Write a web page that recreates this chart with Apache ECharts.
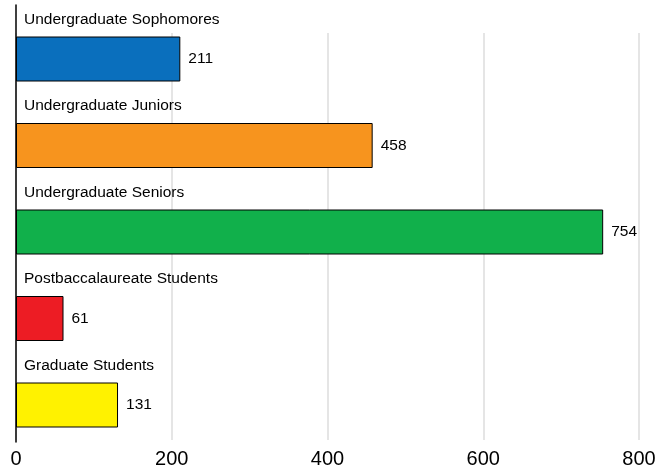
<!DOCTYPE html>
<html>
<head>
<meta charset="utf-8">
<script src="https://cdn.jsdelivr.net/npm/echarts@6/dist/echarts.min.js"></script>
<style>
html,body{margin:0;padding:0;background:#fff;}
#chart{width:668px;height:471px;}
</style>
</head>
<body>
<div id="chart"></div>
<script>
const categories = ['Undergraduate Sophomores', 'Undergraduate Juniors', 'Undergraduate Seniors', 'Postbaccalaureate Students', 'Graduate Students'];
const values = [211, 458, 754, 61, 131];
const colors = ['#0a6fbd', '#f7941e', '#11b04b', '#ed1c24', '#fff200'];
const xTicks = [0, 200, 400, 600, 800];

const FONT = 'Liberation Sans, Arial, Helvetica, sans-serif';
const chart = echarts.init(document.getElementById('chart'));

const xMin = xTicks[0], xMax = xTicks[xTicks.length - 1], xInt = xTicks[1] - xTicks[0];

chart.setOption({
  animation: false,
  backgroundColor: '#ffffff',
  grid: [
    { left: 16, right: 29, top: 15.75, height: 432.5 },
    { left: 16, right: 29, top: 33, bottom: 31 },
    { left: 16, right: 29, top: 5, bottom: 29 }
  ],
  xAxis: [
    { gridIndex: 0, type: 'value', min: xMin, max: xMax, interval: xInt, show: false },
    { gridIndex: 1, type: 'value', min: xMin, max: xMax, interval: xInt,
      axisLine: { show: false }, axisTick: { show: false },
      splitLine: { show: true, lineStyle: { color: '#dcdcdc', width: 1.5 } },
      axisLabel: { color: '#000', fontSize: 20, fontFamily: FONT, margin: 9 } },
    { gridIndex: 2, type: 'value', min: xMin, max: xMax, show: false }
  ],
  yAxis: [
    { gridIndex: 0, type: 'category', data: categories, inverse: true, show: false },
    { gridIndex: 1, type: 'value', show: false },
    { gridIndex: 2, type: 'value', show: true,
      axisLine: { show: true, lineStyle: { color: '#000', width: 1.5 } },
      axisTick: { show: false }, axisLabel: { show: false }, splitLine: { show: false } }
  ],
  series: [
    {
      type: 'bar', xAxisIndex: 0, yAxisIndex: 0, barWidth: 45,
      data: values.map((v, i) => ({ value: v, itemStyle: { color: colors[i] } })),
      itemStyle: { borderColor: '#000', borderWidth: 1 },
      label: { show: true, position: 'right', distance: 8, color: '#000', fontSize: 15.5, fontFamily: FONT }
    },
    {
      type: 'bar', xAxisIndex: 0, yAxisIndex: 0, barWidth: 45, barGap: '-100%', silent: true,
      data: values,
      itemStyle: { color: 'rgba(0,0,0,0)', borderWidth: 0 },
      label: { show: true, position: [8, -17], align: 'left', verticalAlign: 'middle',
        color: '#000', fontSize: 15.5, fontFamily: FONT,
        formatter: p => categories[p.dataIndex] }
    }
  ]
});
</script>
</body>
</html>
